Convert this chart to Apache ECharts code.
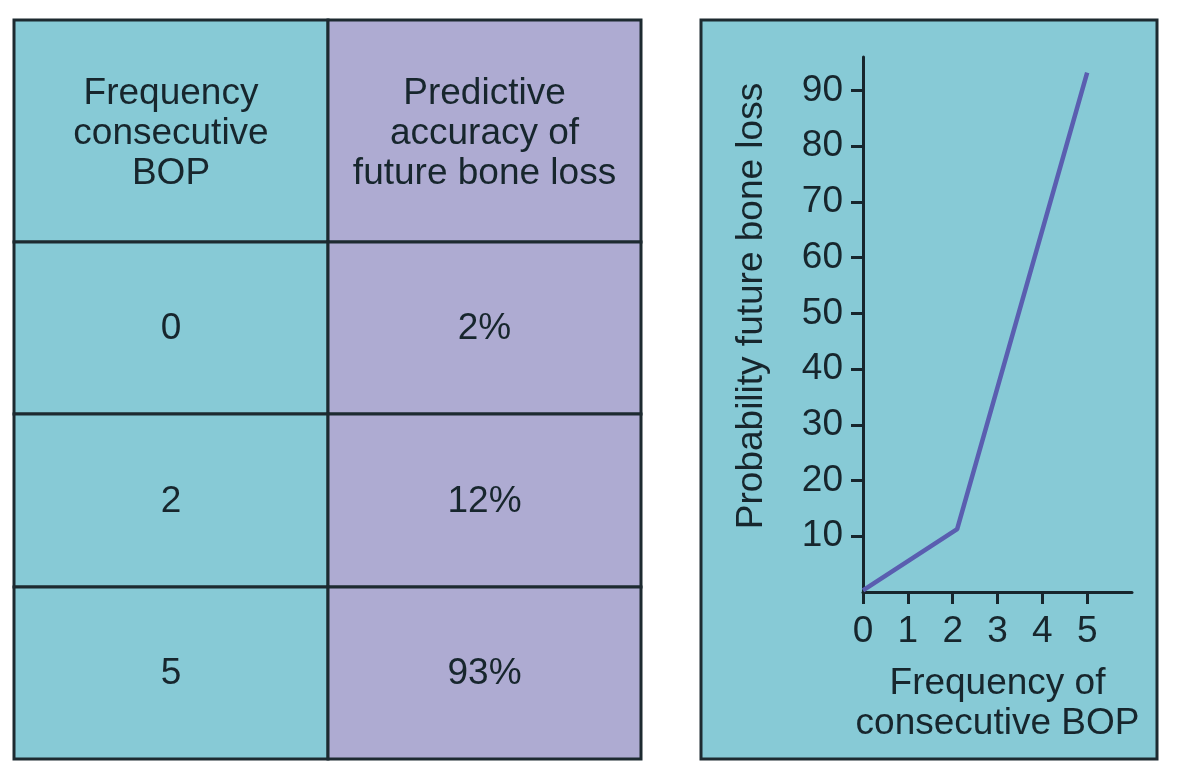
<!DOCTYPE html>
<html>
<head>
<meta charset="utf-8">
<script src="https://cdn.jsdelivr.net/npm/echarts@6/dist/echarts.min.js"></script>
<style>
html,body{margin:0;padding:0;background:#fff;}
#main{width:1179px;height:761px;}
</style>
</head>
<body>
<div id="main"></div>
<script>
// ---- data ----
var tableHeaders = ['Frequency\nconsecutive\nBOP', 'Predictive\naccuracy of\nfuture bone loss'];
var tableFrequency = ['0', '2', '5'];
var tableAccuracy = ['2%', '12%', '93%'];

var bopFrequency = [0, 2.1, 5];
var probability = [0.3, 11.3, 93.2];

var yTickValues = [10, 20, 30, 40, 50, 60, 70, 80, 90];
var xTickValues = [0, 1, 2, 3, 4, 5];

var yAxisTitle = 'Probability future bone loss';
var xAxisTitle = 'Frequency of\nconsecutive BOP';

// ---- style / layout ----
var TEAL = '#87cad6';
var PURPLE = '#aeabd2';
var INK = '#17262d';
var FONT = 'Liberation Sans, Arial, sans-serif';
var FS = 37;

var colX = [14, 328, 641];
var rowY = [20, 242, 414, 587, 759];
var rowTextOffset = [3, 1, 1, 1];
var colFill = [TEAL, PURPLE];

var graphics = [];
// table cells
var rows = [tableHeaders].concat(tableFrequency.map(function (f, i) { return [f, tableAccuracy[i]]; }));
rows.forEach(function (row, r) {
  row.forEach(function (txt, c) {
    var x0 = colX[c], x1 = colX[c + 1], y0 = rowY[r], y1 = rowY[r + 1];
    graphics.push({
      type: 'rect', z: -1,
      shape: { x: x0, y: y0, width: x1 - x0, height: y1 - y0 },
      style: { fill: colFill[c], stroke: '#1d2a30', lineWidth: 3 }
    });
    graphics.push({
      type: 'text', z: 1,
      x: (x0 + x1) / 2, y: (y0 + y1) / 2 + rowTextOffset[r],
      style: {
        text: txt, fill: INK, font: FS + 'px ' + FONT,
        align: 'center', verticalAlign: 'middle', lineHeight: 40
      }
    });
  });
});
// chart panel background
graphics.push({
  type: 'rect', z: -1,
  shape: { x: 701, y: 20, width: 456, height: 739 },
  style: { fill: TEAL, stroke: '#1d2a30', lineWidth: 3 }
});

var chart = echarts.init(document.getElementById('main'));
chart.setOption({
  backgroundColor: '#ffffff',
  animation: false,
  graphic: { elements: graphics },
  grid: { left: 863, top: 57, right: 47, bottom: 169, containLabel: false },
  xAxis: {
    type: 'value', min: 0, max: 6,
    axisLine: { show: true, onZero: false, lineStyle: { color: INK, width: 3 } },
    axisTick: { show: true, length: 12, lineStyle: { color: INK, width: 3 }, customValues: xTickValues },
    axisLabel: { show: true, margin: 21, color: INK, fontSize: FS, fontFamily: FONT, customValues: xTickValues },
    splitLine: { show: false },
    name: xAxisTitle, nameLocation: 'middle', nameGap: 72,
    nameTextStyle: { color: INK, fontSize: FS, fontFamily: FONT, lineHeight: 40, verticalAlign: 'top' }
  },
  yAxis: {
    type: 'value', min: 0, max: 96,
    axisLine: { show: true, lineStyle: { color: INK, width: 3 } },
    axisTick: { show: true, length: 12, lineStyle: { color: INK, width: 3 }, customValues: yTickValues },
    axisLabel: { show: true, margin: 20, color: INK, fontSize: FS, fontFamily: FONT, customValues: yTickValues },
    splitLine: { show: false },
    name: yAxisTitle, nameLocation: 'middle', nameGap: 93, nameRotate: 90,
    nameTextStyle: { color: INK, fontSize: FS, fontFamily: FONT, padding: [0, 0, 0, 37] }
  },
  series: [{
    type: 'line',
    data: bopFrequency.map(function (x, i) { return [x, probability[i]]; }),
    symbol: 'none',
    lineStyle: { color: '#5a5eb0', width: 4.5 },
    z: 3
  }]
});
</script>
</body>
</html>
